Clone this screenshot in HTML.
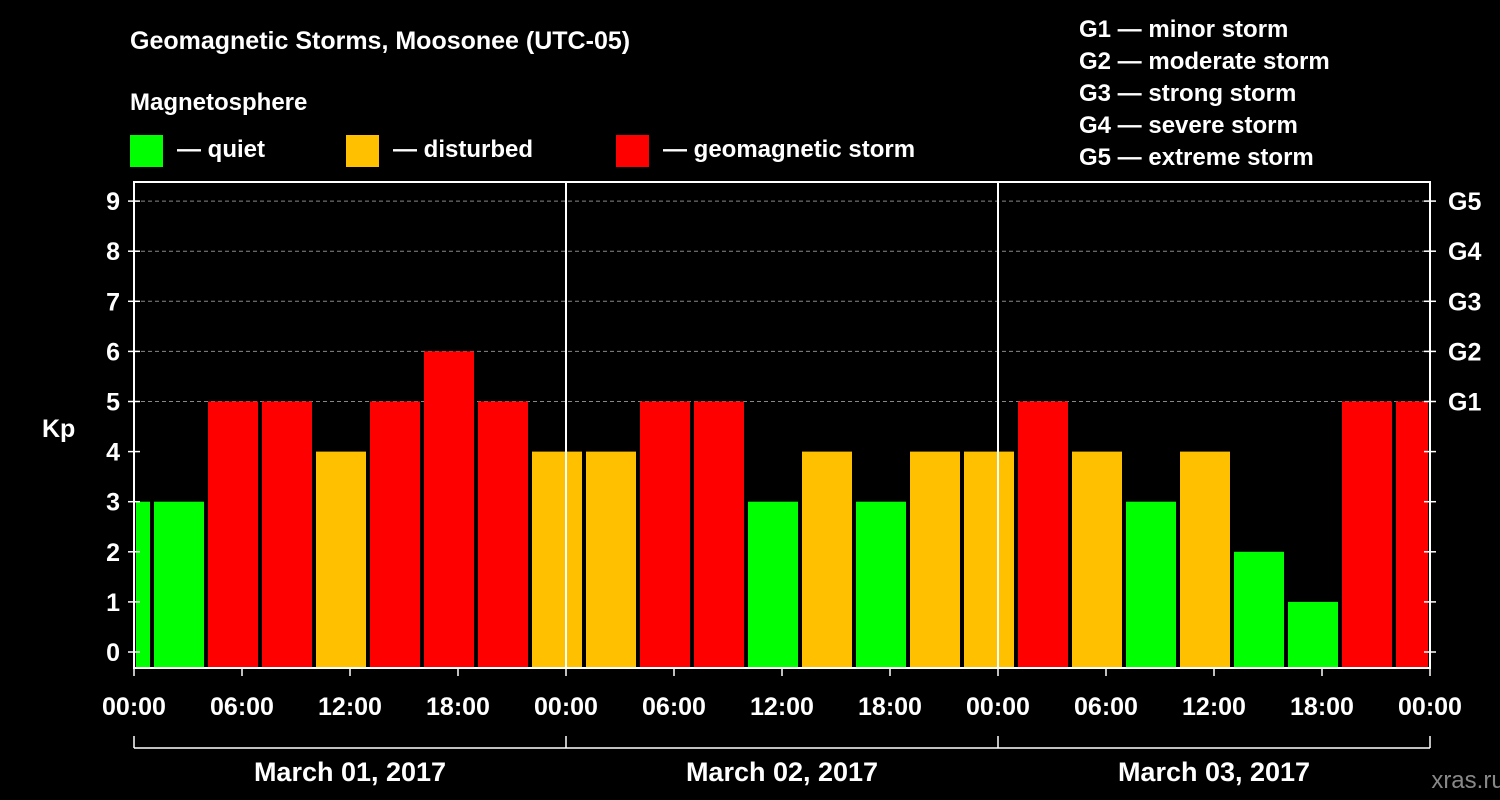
<!DOCTYPE html>
<html><head><meta charset="utf-8">
<style>
body{margin:0;background:#000;}
svg{display:block;font-family:"Liberation Sans",Arial,sans-serif;font-weight:bold;}
</style></head>
<body>
<svg id="chart" width="1500" height="800" viewBox="0 0 1500 800">
<rect x="0" y="0" width="1500" height="800" fill="#000"/>
<text x="130" y="49" fill="#fff" font-size="25">Geomagnetic Storms, Moosonee (UTC-05)</text>
<text x="130" y="110" fill="#fff" font-size="24">Magnetosphere</text>
<rect x="130" y="135" width="33" height="32" fill="#00ff00"/>
<text x="177" y="157" fill="#fff" font-size="24">— quiet</text>
<rect x="346" y="135" width="33" height="32" fill="#ffc000"/>
<text x="393" y="157" fill="#fff" font-size="24">— disturbed</text>
<rect x="616" y="135" width="33" height="32" fill="#ff0000"/>
<text x="663" y="157" fill="#fff" font-size="24">— geomagnetic storm</text>
<g font-size="24" fill="#fff">
<text x="1079" y="37">G1 — minor storm</text>
<text x="1079" y="69">G2 — moderate storm</text>
<text x="1079" y="101">G3 — strong storm</text>
<text x="1079" y="133">G4 — severe storm</text>
<text x="1079" y="165">G5 — extreme storm</text>
</g>
<text x="42" y="437" fill="#fff" font-size="25">Kp</text>
<text x="1468" y="788" fill="#888" font-size="24" text-anchor="middle" font-weight="normal">xras.ru</text>
<g id="plot"></g>
</svg>
<script>
const kpValues = [3, 3,5,5,4,5,6,5,4, 4,5,5,3,4,3,4,4, 5,4,3,4,2,1,5,5];
const barStartHours = [-2, 1,4,7,10,13,16,19,22, 25,28,31,34,37,40,43,46, 49,52,55,58,61,64,67,70];
const yTickLabels = ["0","1","2","3","4","5","6","7","8","9"];
const gLabels = ["G1","G2","G3","G4","G5"];
const timeLabels = ["00:00","06:00","12:00","18:00"];
const dayLabels = ["March 01, 2017","March 02, 2017","March 03, 2017"];

const X0=134, X1=1430, TOP=182, BOT=668;
const x = h => X0 + h*(X1-X0)/72;
const y = v => 652 - v*50.1;
const NS="http://www.w3.org/2000/svg";
const g=document.getElementById('plot');
function el(t,a){const e=document.createElementNS(NS,t);for(const k in a)e.setAttribute(k,a[k]);g.appendChild(e);return e;}
function color(v){return v>=5?"#ff0000":(v>=4?"#ffc000":"#00ff00");}

// grid
for(let v=5;v<=9;v++){
  const l=el('line',{x1:X0,x2:X1,y1:y(v),y2:y(v),stroke:"#888","stroke-dasharray":"4,3","stroke-width":1});
  
  
}
// bars
kpValues.forEach((v,i)=>{
  const s=Math.max(0,barStartHours[i]), e=Math.min(72,barStartHours[i]+3);
  const r=el('rect',{x:x(s)+2,y:y(v),width:x(e)-x(s)-4,height:BOT-y(v),fill:color(v)});
  
  
});
// day separators
for(let d=1;d<3;d++){
  const l=el('line',{x1:x(d*24),x2:x(d*24),y1:TOP,y2:BOT,stroke:"#fff","stroke-width":2});
  
  
}
// frame
const fr=el('rect',{x:X0,y:TOP,width:X1-X0,height:BOT-TOP,fill:"none",stroke:"#fff","stroke-width":2});


// y ticks
yTickLabels.forEach((lab,v)=>{
  el('line',{x1:X0-6,x2:X0+6,y1:y(v),y2:y(v),stroke:"#fff","stroke-width":1.5});
  el('line',{x1:X1-6,x2:X1+6,y1:y(v),y2:y(v),stroke:"#fff","stroke-width":1.5});
  const t=el('text',{x:X0-14,y:y(v)+9,fill:"#fff","font-size":25,"text-anchor":"end"});
  t.textContent=lab;
  
  
});
gLabels.forEach((lab,i)=>{
  const t=el('text',{x:X1+18,y:y(i+5)+9,fill:"#fff","font-size":25});
  t.textContent=lab;
  
  
});
// x ticks
for(let h=0;h<=72;h+=6){
  el('line',{x1:x(h),x2:x(h),y1:BOT,y2:BOT+8,stroke:"#fff","stroke-width":1.5});
  const t=el('text',{x:x(h),y:715,fill:"#fff","font-size":25,"text-anchor":"middle"});
  t.textContent=h===72?timeLabels[0]:timeLabels[(h/6)%4];
  
  
}
// date bracket
el('line',{x1:X0,x2:X1,y1:748,y2:748,stroke:"#fff","stroke-width":1.5});
for(let d=0;d<=3;d++) el('line',{x1:x(d*24),x2:x(d*24),y1:736,y2:748,stroke:"#fff","stroke-width":1.5});
dayLabels.forEach((lab,d)=>{
  const t=el('text',{x:x(d*24+12),y:781,fill:"#fff","font-size":27,"text-anchor":"middle"});
  t.textContent=lab;
  
  
});
</script>
</body></html>
